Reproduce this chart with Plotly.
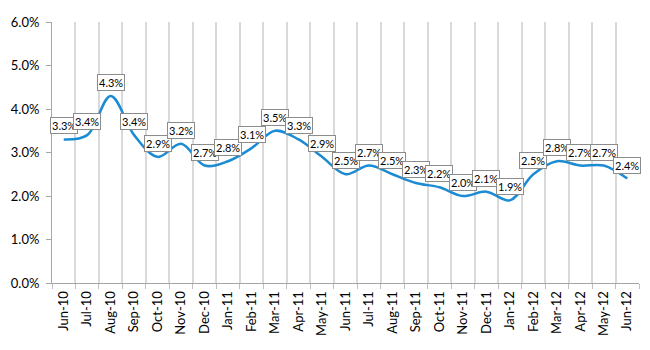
import plotly.graph_objects as go

months = ["Jun-10", "Jul-10", "Aug-10", "Sep-10", "Oct-10", "Nov-10", "Dec-10",
          "Jan-11", "Feb-11", "Mar-11", "Apr-11", "May-11", "Jun-11", "Jul-11",
          "Aug-11", "Sep-11", "Oct-11", "Nov-11", "Dec-11", "Jan-12", "Feb-12",
          "Mar-12", "Apr-12", "May-12", "Jun-12"]
values = [3.3, 3.4, 4.3, 3.4, 2.9, 3.2, 2.7, 2.8, 3.1, 3.5, 3.3, 2.9, 2.5, 2.7,
          2.5, 2.3, 2.2, 2.0, 2.1, 1.9, 2.5, 2.8, 2.7, 2.7, 2.4]
ticks = [0, 1, 2, 3, 4, 5, 6]

yv = [v / 100 for v in values]

fig = go.Figure()
fig.add_trace(go.Scatter(
    x=months, y=yv, mode="lines",
    line=dict(color="#1b8bd3", width=2.5, shape="spline", smoothing=1.0),
    hoverinfo="skip", showlegend=False,
))

for m, v in zip(months, yv):
    fig.add_annotation(
        x=m, y=v, text=f"{v*100:.1f}%", showarrow=False,
        yanchor="bottom", yshift=5,
        font=dict(family="Lato", size=11, color="#000000"),
        bgcolor="#ffffff", bordercolor="#8c8c8c", borderwidth=1, borderpad=1,
    )

fig.update_layout(
    width=650, height=350,
    margin=dict(l=47, r=11, t=22, b=67),
    paper_bgcolor="#ffffff", plot_bgcolor="#ffffff",
    font=dict(family="Lato", size=13, color="#000000"),
    xaxis=dict(
        type="category", tickson="boundaries", range=[-0.5, 24.5],
        showgrid=True, gridcolor="#d9d9d9", gridwidth=2,
        showline=True, linecolor="#a6a6a6", linewidth=1,
        ticks="outside", ticklen=5, tickcolor="#bfbfbf",
        tickangle=-90, tickfont=dict(family="Lato", size=13),
        ticklabelstandoff=2,
    ),
    yaxis=dict(
        range=[0, 0.06], tickvals=[t / 100 for t in ticks], tickformat=".1%",
        showgrid=False, zeroline=False,
        showline=True, linecolor="#a6a6a6", linewidth=1,
        ticks="outside", ticklen=5, tickcolor="#a6a6a6",
        tickfont=dict(family="Lato", size=13),
        ticklabelstandoff=4,
    ),
)

fig.write_html("out.html")
